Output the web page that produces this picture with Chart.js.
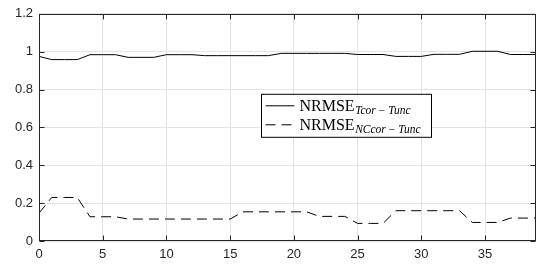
<!DOCTYPE html>
<html>
<head>
<meta charset="utf-8">
<script src="https://cdn.jsdelivr.net/npm/chart.js@4/dist/chart.umd.min.js"></script>
<style>
html,body{margin:0;padding:0;background:#fff;}
#wrap{width:539px;height:266px;position:relative;}
</style>
</head>
<body>
<div id="wrap"><canvas id="c" width="539" height="266"></canvas></div>
<script>
const xs = [0,1,2,3,4,5,6,7,8,9,10,11,12,13,14,15,16,17,18,19,20,21,22,23,24,25,26,27,28,29,30,31,32,33,34,35,36,37,38,39];
const nrmseT = [0.975,0.958,0.958,0.958,0.984,0.984,0.984,0.970,0.970,0.970,0.984,0.984,0.984,0.979,0.979,0.979,0.979,0.979,0.979,0.991,0.991,0.991,0.991,0.991,0.991,0.985,0.985,0.985,0.975,0.975,0.975,0.986,0.986,0.986,1.002,1.002,1.002,0.985,0.985,0.985];
const nrmseNC = [0.147,0.230,0.230,0.230,0.128,0.128,0.128,0.116,0.116,0.116,0.116,0.116,0.116,0.116,0.116,0.116,0.154,0.154,0.154,0.154,0.154,0.154,0.130,0.130,0.130,0.093,0.093,0.093,0.160,0.160,0.160,0.160,0.160,0.160,0.098,0.098,0.098,0.121,0.121,0.121];
const yTicks = [0,0.2,0.4,0.6,0.8,1,1.2];
const xTicks = [0,5,10,15,20,25,30,35];
const legendMain = ['NRMSE','NRMSE'];
const legendSub = ['Tcor\u2009\u2212\u2009Tunc','NCcor\u2009\u2212\u2009Tunc'];

const axisColor = '#262626';

const framePlugin = {
  id: 'frame',
  afterDatasetsDraw(chart) {
    const ctx = chart.ctx, a = chart.chartArea;
    const xs_ = chart.scales.x, ys_ = chart.scales.y;
    ctx.save();
    ctx.strokeStyle = axisColor;
    ctx.lineWidth = 1;
    const L = Math.round(a.left)+0.5, R = Math.round(a.right)-0.5, T = Math.round(a.top)+0.5, B = Math.round(a.bottom)-0.5;
    ctx.strokeRect(L, T, R-L, B-T);
    const tl = 5;
    ctx.beginPath();
    xTicks.forEach(v => {
      const px = Math.round(xs_.getPixelForValue(v))+0.5;
      ctx.moveTo(px, B); ctx.lineTo(px, B-tl);
      ctx.moveTo(px, T); ctx.lineTo(px, T+tl);
    });
    yTicks.forEach(v => {
      const py = Math.round(ys_.getPixelForValue(v))+0.5;
      ctx.moveTo(L, py); ctx.lineTo(L+tl, py);
      ctx.moveTo(R, py); ctx.lineTo(R-tl, py);
    });
    ctx.stroke();

    // legend
    const bx = a.left + 222.5, by = a.top + 80.5, bw = 170, bh = 43;
    ctx.fillStyle = '#fff';
    ctx.fillRect(bx, by, bw, bh);
    ctx.strokeStyle = '#000';
    ctx.strokeRect(bx, by, bw, bh);
    const rows = [by + 11.5, by + 30.5];
    const dashes = [[], [10, 6]];
    for (let i = 0; i < 2; i++) {
      const y = rows[i];
      ctx.beginPath();
      ctx.setLineDash(dashes[i]);
      ctx.strokeStyle = '#000';
      ctx.lineWidth = 1;
      ctx.moveTo(bx + 4, y); ctx.lineTo(bx + 33, y);
      ctx.stroke();
      ctx.setLineDash([]);
      ctx.fillStyle = '#000';
      ctx.textBaseline = 'alphabetic';
      ctx.textAlign = 'left';
      ctx.font = '16px "Liberation Serif", "DejaVu Serif", serif';
      const tx = bx + 38;
      ctx.fillText(legendMain[i], tx, y + 5);
      const w = ctx.measureText(legendMain[i]).width;
      ctx.font = 'italic 11.5px "Liberation Serif", "DejaVu Serif", serif';
      ctx.fillText(legendSub[i], tx + w + 0.5, y + 8);
    }
    ctx.restore();
  }
};

new Chart(document.getElementById('c'), {
  type: 'line',
  data: {
    datasets: [
      {
        label: 'NRMSE_Tcor-Tunc',
        data: xs.map((x, i) => ({x: x, y: nrmseT[i]})),
        borderColor: '#000', borderWidth: 1, pointRadius: 0, tension: 0, fill: false
      },
      {
        label: 'NRMSE_NCcor-Tunc',
        data: xs.map((x, i) => ({x: x, y: nrmseNC[i]})),
        borderColor: '#000', borderWidth: 1, borderDash: [10, 6], pointRadius: 0, tension: 0, fill: false
      }
    ]
  },
  options: {
    responsive: false,
    animation: false,
    layout: {padding: {top: 12, right: 3, left: 0, bottom: 0}},
    plugins: {legend: {display: false}, tooltip: {enabled: false}},
    scales: {
      x: {
        type: 'linear', min: 0, max: 39,
        afterBuildTicks: s => { s.ticks = xTicks.map(v => ({value: v})); },
        afterFit: s => { s.height = 25; },
        grid: {color: '#e3e3e3', drawTicks: false, lineWidth: 1},
        border: {display: false},
        ticks: {padding: 6, color: axisColor, font: {family: '"Liberation Sans", Arial, sans-serif', size: 13}, maxRotation: 0, autoSkip: false}
      },
      y: {
        type: 'linear', min: 0, max: 1.2,
        afterBuildTicks: s => { s.ticks = yTicks.map(v => ({value: v})); },
        afterFit: s => { s.width = 39; },
        grid: {color: '#e3e3e3', drawTicks: false, lineWidth: 1},
        border: {display: false},
        ticks: {padding: 6, color: axisColor, font: {family: '"Liberation Sans", Arial, sans-serif', size: 13}, callback: v => String(Math.round(v*10)/10)}
      }
    }
  },
  plugins: [framePlugin]
});
</script>
</body>
</html>
